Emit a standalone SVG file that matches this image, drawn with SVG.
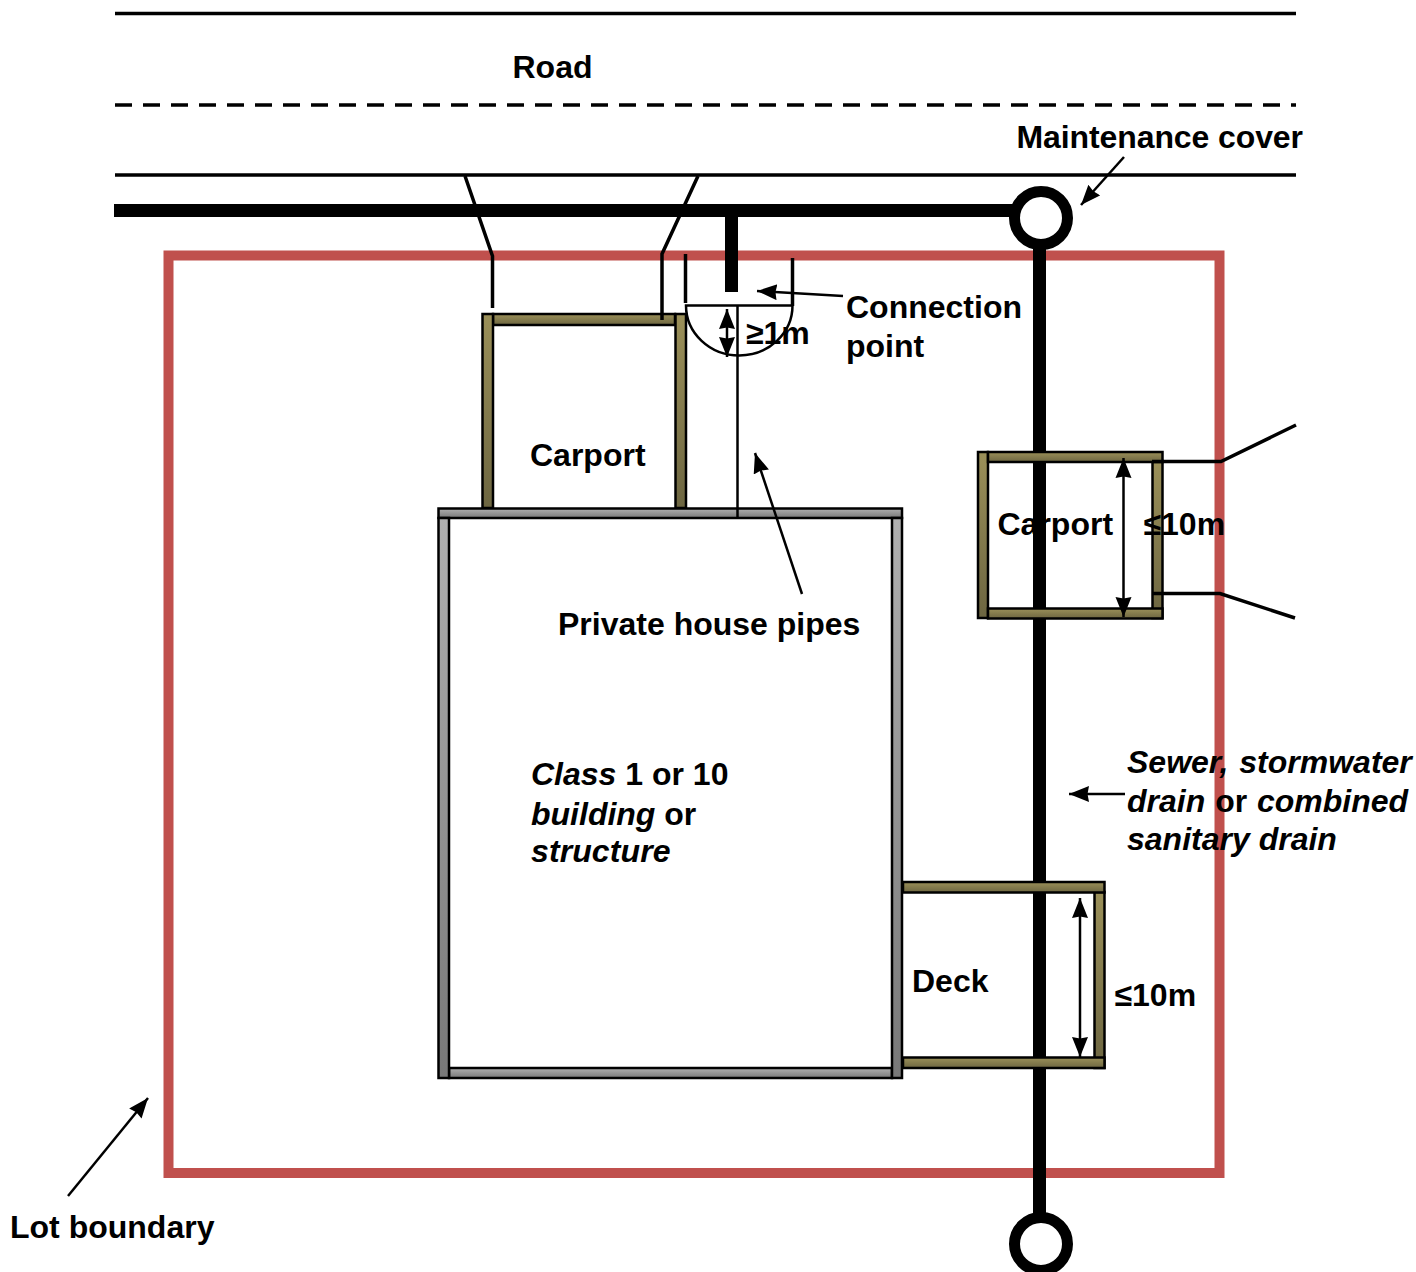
<svg xmlns="http://www.w3.org/2000/svg" width="1416" height="1272" viewBox="0 0 1416 1272">
<style>
text{font-family:"Liberation Sans",Arial,sans-serif;font-size:32px;font-weight:bold;fill:#000}
.i{font-style:italic}
.thin{fill:none;stroke:#000;stroke-width:3.5}
.hair{fill:none;stroke:#000;stroke-width:2.500}
.arr{fill:none;stroke:#000;stroke-width:2.500;marker-end:url(#ah)}
.dbl{fill:none;stroke:#000;stroke-width:2.500;marker-start:url(#ahs);marker-end:url(#ah)}
.thick{fill:none;stroke:#000;stroke-width:13}
.wood{fill:url(#wood);stroke:#000;stroke-width:2.5}
.wall{fill:url(#wall);stroke:#000;stroke-width:2.5}
.mh{fill:#fff;stroke:#000;stroke-width:11}
</style>
<defs>
<linearGradient id="wood" x1="0" y1="0" x2="0" y2="1"><stop offset="0" stop-color="#9b9059"/><stop offset="1" stop-color="#6d6641"/></linearGradient>
<linearGradient id="wall" x1="0" y1="0" x2="0" y2="1"><stop offset="0" stop-color="#b0b0b0"/><stop offset="1" stop-color="#787878"/></linearGradient>
<marker id="ah" markerUnits="userSpaceOnUse" markerWidth="22" markerHeight="18" refX="20" refY="8" orient="auto"><path d="M0 0L20 8L0 16L1.500 8Z" fill="#000"/></marker>
<marker id="ahs" markerUnits="userSpaceOnUse" markerWidth="22" markerHeight="18" refX="0" refY="8" orient="auto"><path d="M20 0L0 8L20 16L18.500 8Z" fill="#000"/></marker>
</defs>
<g id="road">
<path class="thin" d="M115 13.500H1296"/>
<path class="thin" d="M115 105H1296" stroke-dasharray="17 11"/>
<path class="thin" d="M115 175H1296"/>
<text x="512.500" y="78">Road</text>
</g>
<g id="lot-boundary">
<rect x="168.500" y="255.500" width="1051" height="917.500" fill="none" stroke="#c0504d" stroke-width="10"/>
<text x="10" y="1238">Lot boundary</text>
</g>
<g id="drain">
<path class="thick" d="M114 210.500H1020"/>
<path class="thick" d="M1039.500 245V1220"/>
<path class="thick" d="M731.500 210V292"/>
</g>
<g id="maintenance-cover">
<circle class="mh" cx="1041" cy="218" r="26.500"/>
<text x="1016.500" y="148" letter-spacing="-0.1">Maintenance cover</text>
</g>
<g id="maintenance-cover-2">
<circle class="mh" cx="1041" cy="1244" r="26.500"/>
</g>
<g id="carport-1">
<rect class="wood" x="493" y="314" width="182" height="11"/>
<rect class="wood" x="482.500" y="314" width="10.500" height="194"/>
<rect class="wood" x="675.500" y="314" width="10.500" height="194"/>
<text x="530" y="466">Carport</text>
</g>
<g id="carport-2">
<rect class="wood" x="978" y="452" width="10" height="166"/>
<rect class="wood" x="1152.500" y="461" width="10" height="157"/>
<rect class="wood" x="988" y="452" width="174.500" height="10"/>
<rect class="wood" x="988" y="608.500" width="174.500" height="10"/>
<text x="997.500" y="535">Carport</text>
<text x="1143.500" y="535">≤10m</text>
</g>
<g id="deck">
<rect class="wood" x="1094.500" y="892" width="10" height="176"/>
<rect class="wood" x="903" y="882" width="201.500" height="10.500"/>
<rect class="wood" x="903" y="1057.500" width="201.500" height="10.500"/>
<text x="912" y="992">Deck</text>
<text x="1114.500" y="1006">≤10m</text>
</g>
<g id="building">
<rect class="wall" x="438.500" y="508.500" width="463.500" height="9.500"/>
<rect class="wall" x="449" y="1068" width="443" height="10"/>
<rect class="wall" x="438.500" y="518" width="10.500" height="560"/>
<rect class="wall" x="892" y="518" width="10" height="560"/>
<text x="531" y="785"><tspan class="i">Class</tspan> 1 or 10</text>
<text x="531" y="824.500"><tspan class="i">building</tspan> or</text>
<text x="531" y="862" class="i" letter-spacing="0.1">structure</text>
</g>
<g id="connectors">
<path class="thin" d="M465 176L492.500 256V308"/>
<path class="thin" d="M698 176L662 254V320"/>
<path class="thin" d="M1152 461.500H1221L1296 425"/>
<path class="thin" d="M1152 593.500H1220L1295 618"/>
<path class="thin" d="M685.500 254V303"/>
<path class="thin" d="M792.500 258V306"/>
<path class="hair" d="M686 305.500H792.500A53.250 50 0 0 1 686 305.500Z"/>
<path class="hair" d="M737.500 305V518"/>
<path class="dbl" d="M727 309V357"/>
<path class="dbl" d="M1123.500 458V617"/>
<path class="dbl" d="M1080 898V1057"/>
<path class="arr" d="M1124 157L1081 205"/>
<path class="arr" d="M843 296L757 291"/>
<path class="arr" d="M802 594L755 453"/>
<path class="arr" d="M1125 794H1069"/>
<path class="arr" d="M68 1196L148 1098"/>
</g>
<g id="labels">
<text x="846" y="318">Connection</text>
<text x="846" y="357">point</text>
<text x="746" y="344">≥1m</text>
<text x="558" y="635">Private house pipes</text>
<text x="1127" y="773" class="i" word-spacing="2">Sewer, stormwater</text>
<text x="1127" y="812" word-spacing="1"><tspan class="i">drain</tspan> or <tspan class="i">combined</tspan></text>
<text x="1127" y="850" class="i">sanitary drain</text>
</g>
</svg>
